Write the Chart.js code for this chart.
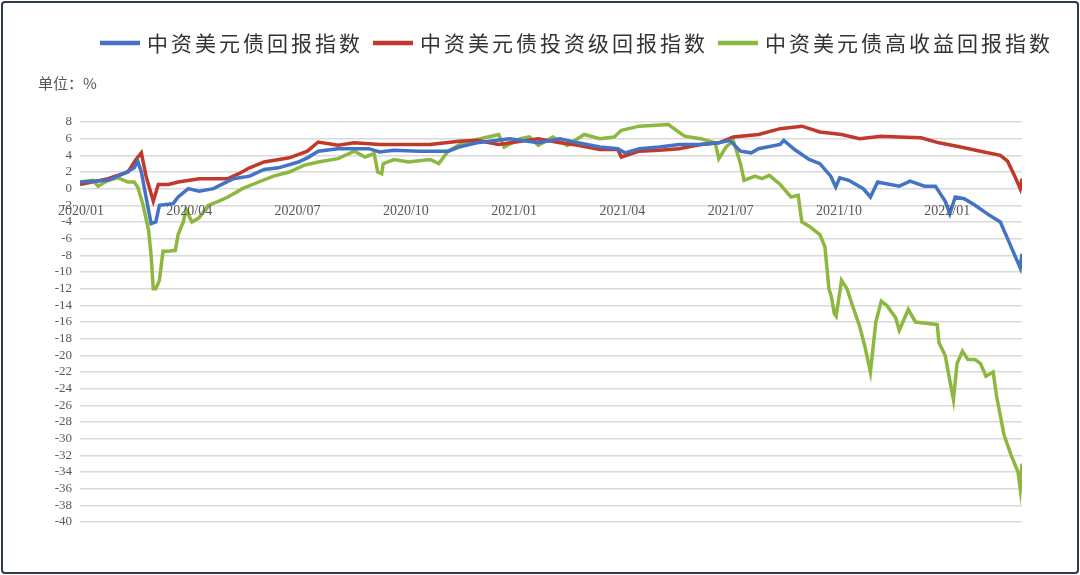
<!DOCTYPE html>
<html><head><meta charset="utf-8">
<script src="https://cdn.jsdelivr.net/npm/chart.js@4/dist/chart.umd.min.js"></script>
<style>
html,body{margin:0;padding:0;background:#fff;}
#wrap{position:relative;width:1080px;height:575px;}
#frame{position:absolute;left:1px;top:1px;width:1074px;height:569px;border:2px solid #2f3b4c;border-radius:4px;pointer-events:none;}
</style></head>
<body><div id="wrap"><canvas id="c" width="1080" height="575"></canvas><div id="frame"></div></div>
<script>
// months since 2020/01
const seriesNames = ['中资美元债回报指数','中资美元债投资级回报指数','中资美元债高收益回报指数'];
const tickLabels = ['2020/01','2020/04','2020/07','2020/10','2021/01','2021/04','2021/07','2021/10','2022/01'];
const allX = [0,0.78,1.2,1.5,1.6,1.7,1.83,1.97,2.1,2.2,2.58,2.72,3,3.3,3.7,3.97,4.25,4.7,5.1,5.5,6.05,6.3,6.6,7.15,8,8.3,8.7,9.4,10.2,10.5,11,11.9,12.7,13.3,13.8,14.4,14.9,15.1,15.5,16.05,16.6,17.2,17.7,18,18.3,18.6,18.8,19.4,19.5,19.8,20.2,20.5,20.8,20.94,21.05,21.3,21.7,21.9,22.1,22.45,22.7,23,23.4,23.7,23.97,24.1,24.25,24.5,24.8,25.2,25.5,25.7,25.9,26.05,26.1];
const allY = [0.8,1,1.8,2.5,3.3,2,-1,-4.2,-4,-2,-1.8,-1,0,-0.3,0,0.6,1.2,1.5,2.3,2.5,3.2,3.7,4.5,4.8,4.8,4.4,4.6,4.5,4.5,5,5.5,6,5.5,6,5.5,5,4.8,4.3,4.8,5,5.3,5.3,5.5,5.8,4.5,4.3,4.8,5.3,5.8,4.7,3.5,3,1.5,0.2,1.3,1,0,-1,0.8,0.5,0.3,0.9,0.3,0.3,-1.5,-3,-1,-1.2,-2,-3.2,-4,-6,-8,-9.5,-7.8];
const igX = [0,0.78,1.33,1.55,1.7,1.83,2.03,2.17,2.45,2.72,3.3,4.1,4.4,4.7,5.1,5.8,6.3,6.6,7.15,7.6,8.3,8.85,9.7,10.5,11,11.6,12.7,13.3,13.8,14.4,14.9,15,15.5,16.05,16.6,17.2,17.7,18.1,18.8,19.4,20,20.5,21.1,21.6,22.2,22.7,23.3,23.8,24.4,24.95,25.5,25.7,25.9,26.05,26.1];
const igY = [0.5,1.2,2,3.5,4.3,1.5,-1.5,0.5,0.5,0.8,1.2,1.2,1.8,2.5,3.2,3.7,4.5,5.6,5.2,5.5,5.3,5.3,5.3,5.7,5.8,5.3,6,5.5,5.2,4.7,4.7,3.8,4.5,4.6,4.8,5.3,5.5,6.2,6.5,7.2,7.5,6.8,6.5,6,6.3,6.2,6.1,5.5,5,4.5,4,3.3,1.5,0,1.2];
const hyX = [0,0.36,0.5,0.78,1.05,1.33,1.5,1.6,1.75,1.9,1.97,2.03,2.1,2.2,2.3,2.45,2.64,2.72,2.86,2.94,3.1,3.3,3.55,3.85,4.1,4.5,4.95,5.36,5.8,6.2,6.6,7.15,7.6,7.9,8.15,8.25,8.36,8.4,8.7,9.1,9.7,9.94,10.2,10.6,11.3,11.6,11.75,12.2,12.45,12.7,13.1,13.5,13.97,14.4,14.8,15,15.5,16.3,16.75,17.2,17.6,17.7,17.9,18.1,18.3,18.4,18.7,18.9,19.1,19.4,19.7,19.9,20,20.2,20.5,20.64,20.75,20.82,20.9,20.95,21.1,21.25,21.4,21.6,21.75,21.9,22.05,22.2,22.35,22.6,22.7,22.95,23.15,23.55,23.75,23.8,23.97,24.1,24.2,24.3,24.45,24.6,24.8,24.95,25.1,25.3,25.4,25.6,25.8,25.99,26.05,26.1];
const hyY = [0.8,1,0.3,1,1.3,0.8,0.8,0.2,-2,-5,-8,-12,-12,-11,-7.5,-7.5,-7.4,-5.5,-4,-2.5,-4,-3.5,-2,-1.5,-1,0,0.8,1.5,2,2.8,3.2,3.6,4.5,3.8,4.2,2,1.8,3,3.5,3.2,3.5,3,4.5,5.5,6.2,6.5,5,6,6.2,5.2,6.2,5.2,6.5,6,6.2,7,7.5,7.7,6.3,6,5.5,3.6,5,5.8,3,1,1.5,1.2,1.6,0.5,-1,-0.8,-4,-4.5,-5.5,-7,-12,-13,-15,-15.3,-11,-12,-14,-16.5,-19,-22,-16,-13.5,-14,-15.5,-17,-14.5,-16,-16.2,-16.3,-18.5,-20,-23,-25.3,-21,-19.5,-20.5,-20.5,-21,-22.5,-22,-25,-29.5,-32,-34,-36,-33];
const colors = ['#4472c4','#c0392b','#8cb83f'];
const pts = (xs,ys)=>xs.map((x,i)=>({x:x,y:ys[i]}));
const serif = "'Liberation Serif','DejaVu Serif',serif";
const cjk = "'Noto Sans CJK SC',sans-serif";

const deco = {
  id:'deco',
  afterDraw(chart){
    const ctx=chart.ctx, xs=chart.scales.x, ys=chart.scales.y;
    ctx.save();
    ctx.font = "21px "+cjk; ctx.textBaseline='middle';
    try{ctx.letterSpacing='3px';}catch(e){}
    let x = 100; const y = 43;
    seriesNames.forEach((n,i)=>{
      ctx.strokeStyle=colors[i]; ctx.lineWidth=4.5;
      ctx.beginPath(); ctx.moveTo(x,y); ctx.lineTo(x+40,y); ctx.stroke();
      ctx.fillStyle='#333'; ctx.fillText(n,x+47,y);
      x += 47 + ctx.measureText(n).width + 10;
    });
    try{ctx.letterSpacing='0px';}catch(e){}
    ctx.font = "15px "+cjk; ctx.fillStyle='#555';
    ctx.fillText('单位：%',38,83);
    ctx.font = "14px "+serif; ctx.fillStyle='#595959'; ctx.textAlign='center'; ctx.textBaseline='middle';
    const y0 = ys.getPixelForValue(0);
    tickLabels.forEach((t,i)=>{ ctx.fillText(t, xs.getPixelForValue(i*3)+1, y0+23); });
    ctx.restore();
  }
};

new Chart(document.getElementById('c'),{
  type:'line',
  data:{datasets:[
    {label:seriesNames[0],data:pts(allX,allY),borderColor:colors[0]},
    {label:seriesNames[1],data:pts(igX,igY),borderColor:colors[1]},
    {label:seriesNames[2],data:pts(hyX,hyY),borderColor:colors[2]}
  ].map(d=>Object.assign(d,{borderWidth:3.5,pointRadius:0,tension:0,fill:false}))},
  options:{
    responsive:false,animation:false,
    layout:{padding:{top:122,right:58,bottom:53,left:0}},
    plugins:{legend:{display:false},tooltip:{enabled:false}},
    scales:{
      x:{type:'linear',min:0,max:26.1,display:false},
      y:{min:-40,max:8,
        afterFit(s){s.width=80;},
        border:{display:false},
        grid:{color:'#d9d9d9',lineWidth:1.5,drawTicks:false},
        ticks:{stepSize:2,autoSkip:false,padding:8,color:'#595959',font:{family:serif,size:13}}
      }
    }
  },
  plugins:[deco]
});
</script></body></html>
